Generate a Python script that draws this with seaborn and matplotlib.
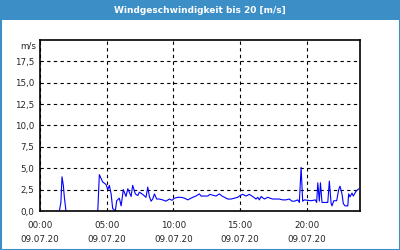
import matplotlib
matplotlib.use("Agg")
import matplotlib.pyplot as plt
from matplotlib.patches import Rectangle
from matplotlib.ticker import MultipleLocator, FixedLocator
import seaborn as sns
import pandas as pd
import numpy as np

title = "Windgeschwindigkeit bis 20 [m/s]"
unit_label = "m/s"
date_label = "09.07.20"
x_tick_hours = [0, 5, 10, 15, 20]
y_ticks = [0, 2.5, 5, 7.5, 10, 12.5, 15, 17.5]

seg1_times = ["01:27", "01:34", "01:39", "01:45", "01:50", "01:57"]
seg1_values = [0.0, 1.0, 4.0, 3.0, 1.5, 0.0]

seg2_times = [
    "04:20", "04:27", "04:42", "04:57", "05:05", "05:12", "05:20", "05:27", "05:39", "05:45",
    "05:57", "06:05", "06:15", "06:27", "06:35", "06:42", "06:50", "06:57", "07:09", "07:20",
    "07:27", "07:42", "07:57", "08:05", "08:12", "08:20", "08:27", "08:35", "08:45", "08:57",
    "09:12", "09:27", "09:42", "09:54", "10:05", "10:20", "10:35", "10:50", "11:05", "11:12",
    "11:27", "11:42", "11:57", "12:05", "12:20", "12:35", "12:45", "12:57", "13:12", "13:27",
    "13:39", "13:50", "14:05", "14:20", "14:35", "14:50", "14:57", "15:12", "15:27", "15:42",
    "15:57", "16:12", "16:20", "16:27", "16:35", "16:50", "17:05", "17:15", "17:27", "17:42",
    "17:57", "18:12", "18:27", "18:42", "18:54", "19:05", "19:20", "19:27", "19:35", "19:42",
    "19:50", "20:05", "20:20", "20:39", "20:45", "20:50", "20:57", "21:02", "21:09", "21:35",
    "21:42", "21:50", "21:54", "22:02", "22:15", "22:24", "22:30", "22:39", "22:45", "22:53",
    "23:05", "23:09", "23:15", "23:24", "23:30", "23:42", "23:50", "23:54",
]
seg2_values = [
    0.0, 4.25, 3.4, 3.1, 2.5, 3.0, 2.0, 0.3, 0.0, 1.2,
    1.5, 0.6, 2.5, 1.7, 2.6, 2.2, 1.7, 3.0, 2.0, 1.8,
    2.2, 1.95, 1.6, 2.8, 1.7, 1.15, 1.4, 2.0, 1.4, 1.4,
    1.3, 1.15, 1.4, 1.25, 1.5, 1.6, 1.6, 1.5, 1.3, 1.4,
    1.6, 1.75, 2.0, 1.75, 1.75, 1.75, 1.95, 1.85, 1.75, 2.0,
    1.75, 1.6, 1.4, 1.4, 1.5, 1.6, 1.75, 1.95, 1.75, 1.95,
    1.7, 1.4, 1.6, 1.3, 1.7, 1.4, 1.6, 1.5, 1.4, 1.4,
    1.4, 1.3, 1.3, 1.4, 1.15, 1.15, 1.3, 1.0, 5.1, 1.15,
    1.3, 1.25, 1.2, 1.3, 1.0, 3.3, 1.15, 3.3, 1.0, 1.0,
    3.5, 0.9, 0.6, 1.2, 1.2, 2.5, 2.9, 2.0, 0.85, 0.6,
    0.6, 2.0, 1.65, 2.1, 1.75, 2.3, 2.5, 2.6,
]


def to_hours(ts):
    return [int(t[:2]) + int(t[3:]) / 60 for t in ts]


df = pd.DataFrame({
    "hour": to_hours(seg1_times) + to_hours(seg2_times),
    "speed": seg1_values + seg2_values,
    "seg": [1] * len(seg1_times) + [2] * len(seg2_times),
})

sns.set_style("white")
plt.rcParams["font.family"] = ["DejaVu Sans"]

fig = plt.figure(figsize=(4, 2.5), dpi=100)
fig.patch.set_facecolor("white")
blue = "#3b8ec6"
# title bar and frame
fig.patches.append(Rectangle((0, 1 - 20 / 250), 1, 20 / 250, transform=fig.transFigure,
                             facecolor=blue, edgecolor="none", zorder=0))
fig.patches.append(Rectangle((0.5 / 400, 0.5 / 250), 1 - 1 / 400, 1 - 1 / 250, transform=fig.transFigure,
                             facecolor="none", edgecolor=blue, lw=1.5, zorder=0))
fig.text(0.5, 1 - 10.5 / 250, title, color="white", fontsize=6.5, fontweight="bold",
         ha="center", va="center")

ax = fig.add_axes([40 / 400, 39 / 250, 320 / 400, 171 / 250])
sns.lineplot(data=df, x="hour", y="speed", units="seg", estimator=None,
             color="#0000ff", lw=0.8, ax=ax, legend=False)

ax.set_xlim(0, 24)
ax.set_ylim(0, 20)
ax.set_xlabel("")
ax.set_ylabel("")
ax.xaxis.set_major_locator(FixedLocator(x_tick_hours))
ax.xaxis.set_minor_locator(MultipleLocator(1))
ax.set_xticklabels([f"{h:02d}:00\n{date_label}" for h in x_tick_hours], fontsize=6.3,
                   linespacing=1.8)
ax.set_yticks(y_ticks)
ax.set_yticklabels([f"{v:.1f}".replace(".", ",") for v in y_ticks], fontsize=6.3)
ax.tick_params(axis="x", which="both", direction="out", length=3, width=0.8, color="black", pad=4)
ax.tick_params(axis="y", length=0, pad=4)
ax.grid(True, which="major", color="black", linestyle=(0, (3, 3)), lw=0.8)
ax.text(-0.012, 0.965, unit_label, transform=ax.transAxes, ha="right", va="center", fontsize=6.3)
for sp in ax.spines.values():
    sp.set_visible(True)
    sp.set_color("black")
    sp.set_linewidth(1.2)

fig.savefig("out.png", dpi=100)
